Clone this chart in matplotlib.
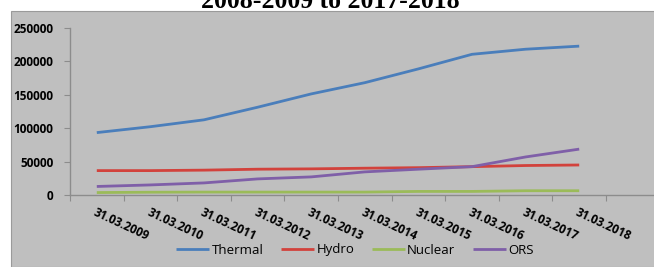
import numpy as np
import matplotlib
matplotlib.use('Agg')
import matplotlib.pyplot as plt
from matplotlib.patches import Rectangle

# installed capacity (MW)
years = ['31.03.2009', '31.03.2010', '31.03.2011', '31.03.2012', '31.03.2013',
         '31.03.2014', '31.03.2015', '31.03.2016', '31.03.2017', '31.03.2018']
thermal = [93700, 102500, 112800, 131600, 151500, 168300, 188900, 210700, 218300, 222900]
hydro = [36900, 36900, 37600, 39000, 39500, 40500, 41300, 42800, 44500, 45300]
nuclear = [4100, 4600, 4800, 4800, 4800, 4800, 5800, 5800, 6800, 6800]
ors = [13200, 15500, 18500, 24500, 27500, 35000, 39000, 42800, 57300, 69000]

series = {'Thermal': thermal, 'Hydro': hydro, 'Nuclear': nuclear, 'ORS': ors}
colors = {'Thermal': '#4a7ebb', 'Hydro': '#d2423c', 'Nuclear': '#9bbb59', 'ORS': '#7f5fa8'}

bg = '#bfbfbf'
W, H = 654, 267
fig = plt.figure(figsize=(W / 100, H / 100), dpi=100, facecolor='white')

# grey chart area behind the axes
fig.patches.append(Rectangle((11 / W, 0), 1, 1 - 11 / H, transform=fig.transFigure,
                             facecolor=bg, edgecolor='#9a9a9a', linewidth=0.8, zorder=-5))

fig.text(330 / W, 1 - 8 / H, '2008-2009 to 2017-2018', ha='center', va='baseline',
         fontsize=18.5, fontweight='bold', family='Liberation Serif')

ax = fig.add_axes([70 / W, 1 - 195.3 / H, (W - 70) / W, (195.3 - 28) / H])
ax.set_zorder(2)
ax.set_facecolor(bg)

x = np.arange(len(years))
for name, vals in series.items():
    ax.plot(x, vals, color=colors[name], linewidth=2, label=name, solid_capstyle='butt')

ax.set_ylim(0, 250000)
ax.set_xlim(-0.5, (W - 70) / 53.6 - 0.5)
ax.set_yticks(np.arange(0, 250001, 50000))
ax.set_yticklabels([str(v) for v in range(0, 250001, 50000)],
                   fontsize=8.5, fontweight='bold', family='Open Sans')

ax.set_xticks(np.arange(-0.5, len(years), 1))
ax.set_xticklabels([])
ax.set_xticks(x, minor=True)
ax.set_xticklabels(years, minor=True, rotation=-25, rotation_mode='anchor',
                   ha='left', va='top', fontsize=8.5, fontweight='bold', family='Open Sans')
ax.tick_params(axis='x', which='minor', length=0, pad=8)
ax.tick_params(axis='x', which='major', length=4, color='#8c8c8c', direction='out')
ax.tick_params(axis='y', length=4, color='#8c8c8c', direction='out', pad=8)

for s in ['top', 'right']:
    ax.spines[s].set_visible(False)
for s in ['left', 'bottom']:
    ax.spines[s].set_color('#8c8c8c')
    ax.spines[s].set_linewidth(1)

leg = fig.legend(loc='center', bbox_to_anchor=(355 / W, 1 - 250 / H), ncol=4, frameon=False,
                 handlelength=2.5, handletextpad=0.2, columnspacing=1.3,
                 prop={'family': 'Open Sans', 'size': 9.5})
leg.set_zorder(3)

fig.savefig('out.png', dpi=100, facecolor='white')
